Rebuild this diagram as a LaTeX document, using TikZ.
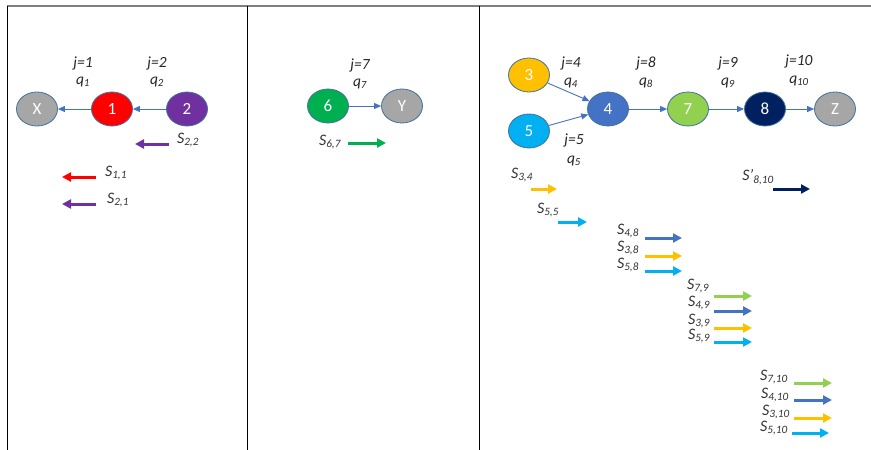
\documentclass[tikz,border=0pt]{standalone}
\usepackage{fontspec}
\setmainfont{Carlito}
\usetikzlibrary{arrows.meta,shapes.geometric}
\definecolor{cgray}{HTML}{A6A6A6}
\definecolor{cred}{HTML}{FF0000}
\definecolor{cpurple}{HTML}{7030A0}
\definecolor{cgreen}{HTML}{00B050}
\definecolor{cyellow}{HTML}{FFC000}
\definecolor{ccyan}{HTML}{00B0F0}
\definecolor{cblue}{HTML}{4472C4}
\definecolor{clime}{HTML}{92D050}
\definecolor{cnavy}{HTML}{002060}
\definecolor{cborder}{HTML}{41719C}
\definecolor{cframe}{HTML}{7F7F7F}
\tikzset{
  circ/.style={shape=ellipse, draw=cborder, line width=0.8pt, minimum width=41pt, minimum height=34pt, inner sep=0pt, text=white, font=\fontsize{17}{17}\selectfont},
  lbl/.style={font=\itshape\fontsize{15.5}{15.5}\selectfont, inner sep=0pt, anchor=center, text=black!85},
  slbl/.style={font=\itshape\fontsize{16}{16}\selectfont, inner sep=0pt, anchor=center, text=black!80},
  edge/.style={draw=cblue, line width=0.9pt, -{Triangle[length=7pt,width=6pt]}},
  blk/.style={line width=3pt, -{Triangle[length=9pt,width=9pt]}}
}
\begin{document}
\begin{tikzpicture}[x=1pt,y=-1pt]
\useasboundingbox (0,0) rectangle (871,450);
% frame
\draw[cframe, line width=1.6pt] (7,6) -- (871,6);
\draw[black, line width=0.9pt] (7,6) -- (7,450);
\draw[black, line width=0.9pt] (247,6) -- (247,450);
\draw[black, line width=0.9pt] (479,6) -- (479,450);

% left panel
\node[circ, fill=cgray] (X) at (37,109) {X};
\node[circ, fill=cred] (n1) at (112,109) {1};
\node[circ, fill=cpurple] (n2) at (187,109) {2};
\draw[edge] (n1) -- (X);
\draw[edge] (n2) -- (n1);
\node[lbl] (j1) at (83,63) {j=1};
\node[lbl] (q1) at (83,82) {q\textsubscript{1}};
\node[lbl] (j2) at (157,63) {j=2};
\node[lbl] (q2) at (157,82) {q\textsubscript{2}};
\node[slbl] (s22) at (188,140) {S\textsubscript{2,2}};
\draw[blk, cpurple] (169,144) -- (135,144);
\node[slbl] (s11) at (116,173) {S\textsubscript{1,1}};
\draw[blk, cred] (96,177) -- (62,177);
\node[slbl] (s21) at (118,200) {S\textsubscript{2,1}};
\draw[blk, cpurple] (96,204) -- (62,204);

% middle panel
\node[circ, fill=cgreen] (n6) at (328,106) {6};
\node[circ, fill=cgray] (Y) at (402,106) {Y};
\draw[edge] (n6) -- (Y);
\node[lbl] (j7) at (360,65) {j=7};
\node[lbl] (q7) at (360,84) {q\textsubscript{7}};
\node[slbl] (s67) at (330,142) {S\textsubscript{6,7}};
\draw[blk, cgreen] (348,143) -- (386,143);

% right panel
\node[circ, fill=cyellow] (n3) at (529,75) {3};
\node[circ, fill=ccyan] (n5) at (529,131) {5};
\node[circ, fill=cblue] (n4) at (608,109) {4};
\node[circ, fill=clime] (n7) at (688,109) {7};
\node[circ, fill=cnavy] (n8) at (765,109) {8};
\node[circ, fill=cgray] (Z) at (835,109) {Z};
\draw[edge] (n3) -- (n4);
\draw[edge] (n5) -- (n4);
\draw[edge] (n4) -- (n7);
\draw[edge] (n7) -- (n8);
\draw[edge] (n8) -- (Z);
\node[lbl] (j4) at (571,63) {j=4};
\node[lbl] (q4) at (571,83) {q\textsubscript{4}};
\node[lbl] (j8) at (646,63) {j=8};
\node[lbl] (q8) at (646,83) {q\textsubscript{8}};
\node[lbl] (j9) at (728,63) {j=9};
\node[lbl] (q9) at (728,83) {q\textsubscript{9}};
\node[lbl] (j10) at (799,61) {j=10};
\node[lbl] (q10) at (799,81) {q\textsubscript{10}};
\node[lbl] (j5) at (574,140) {j=5};
\node[lbl] (q5) at (574,161) {q\textsubscript{5}};

\node[slbl] (s34) at (522,175) {S\textsubscript{3,4}};
\draw[blk, cyellow] (531,189) -- (557,189);
\node[slbl] (s55) at (548,210) {S\textsubscript{5,5}};
\draw[blk, ccyan] (558,222) -- (587,222);

\node[slbl] (s48) at (628,231) {S\textsubscript{4,8}};
\draw[blk, cblue] (645,238) -- (682,238);
\node[slbl] (s38) at (628,248) {S\textsubscript{3,8}};
\draw[blk, cyellow] (645,256) -- (682,256);
\node[slbl] (s58) at (628,265) {S\textsubscript{5,8}};
\draw[blk, ccyan] (645,271) -- (682,271);

\node[slbl] (s79) at (698,286) {S\textsubscript{7,9}};
\draw[blk, clime] (714,296) -- (752,296);
\node[slbl] (s49) at (699,303) {S\textsubscript{4,9}};
\draw[blk, cblue] (714,311) -- (752,311);
\node[slbl] (s39) at (699,321) {S\textsubscript{3,9}};
\draw[blk, cyellow] (714,328) -- (752,328);
\node[slbl] (s59) at (699,336) {S\textsubscript{5,9}};
\draw[blk, ccyan] (714,342) -- (752,342);

\node[slbl] (s810) at (758,177) {S’\textsubscript{8,10}};
\draw[blk, cnavy] (773,189) -- (810,189);

\node[slbl] (s710) at (774,377) {S\textsubscript{7,10}};
\draw[blk, clime] (794,383) -- (832,383);
\node[slbl] (s410) at (775,395) {S\textsubscript{4,10}};
\draw[blk, cblue] (794,400) -- (832,400);
\node[slbl] (s310) at (776,412) {S\textsubscript{3,10}};
\draw[blk, cyellow] (794,418) -- (832,418);
\node[slbl] (s510) at (774,428) {S\textsubscript{5,10}};
\draw[blk, ccyan] (792,433) -- (829,433);
\end{tikzpicture}
\end{document}
